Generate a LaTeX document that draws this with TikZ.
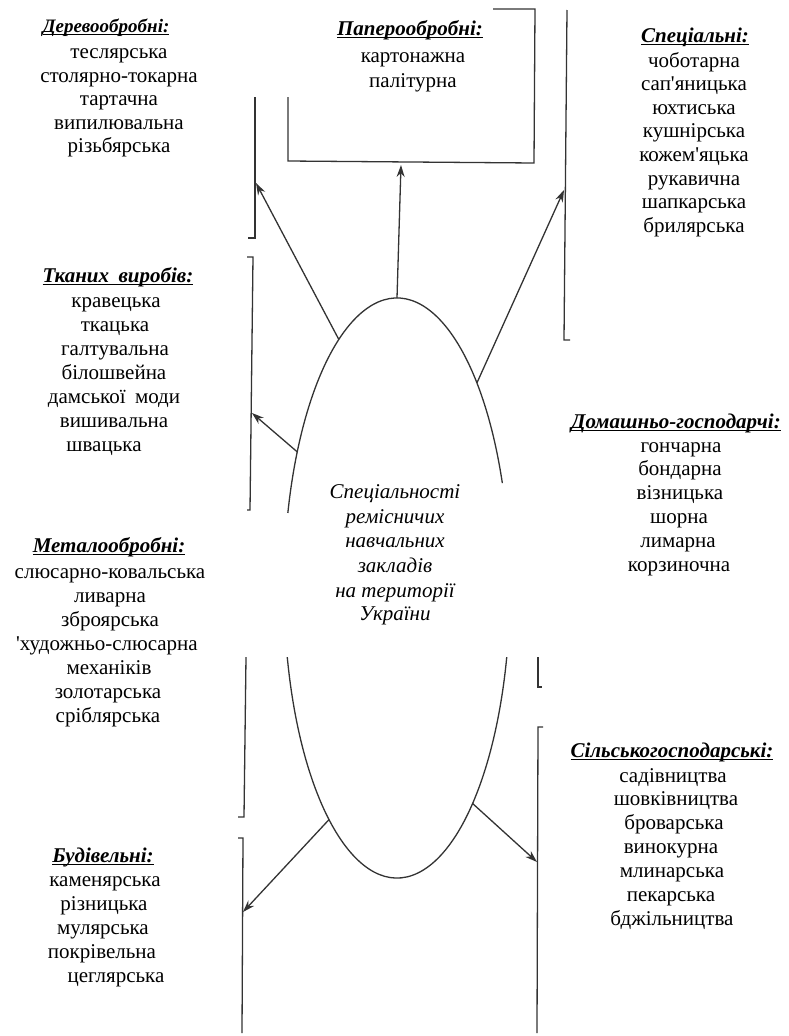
\documentclass[tikz,border=0pt]{standalone}
\usepackage{fontspec}
\setmainfont{Liberation Serif}[Ligatures=TeXOff]
\usetikzlibrary{arrows.meta}
\newcommand{\ulx}[1]{\setbox0\hbox{#1}\rlap{\rule[-3pt]{\wd0}{1.1pt}}\box0}
\begin{document}
\begin{tikzpicture}[x=1pt,y=-1pt,
  item/.style={inner sep=0pt, anchor=base, font=\fontsize{21}{23.5}\selectfont},
  head/.style={inner sep=0pt, anchor=base, font=\fontsize{21}{23.5}\selectfont\bfseries\itshape},
  ctext/.style={inner sep=0pt, anchor=base, font=\fontsize{21}{24}\selectfont\itshape},
  ln/.style={line width=1.3pt, draw=black!80},
  arr/.style={ln, -{Stealth[length=12pt,width=8pt]}}]
\useasboundingbox (0,0) rectangle (788,1036);

% ---------- headers and item lists ----------
\node[head, font=\fontsize{19}{22}\selectfont\bfseries\itshape] (hD) at (106,32) {\ulx{Деревообробні:}};
\foreach \t/\y [count=\i] in {теслярська/58, столярно-токарна/82, тартачна/105, випилювальна/129, різьбярська/152}
  \node[item] (d\i) at (119,\y) {\t};

\node[head] (hT) at (118,282) {\ulx{Тканих\hspace{0.45em}виробів:}};
\foreach \t/\x/\y [count=\i] in {кравецька/116/307, ткацька/115/331, галтувальна/115/355, білошвейна/114/379, {дамської\hspace{0.45em}моди}/114/403, вишивальна/114/427, швацька/104/451}
  \node[item] (t\i) at (\x,\y) {\t};

\node[head] (hM) at (109,552) {\ulx{Металообробні:}};
\foreach \t/\x/\y [count=\i] in {слюсарно-ковальська/110/578, ливарна/110/602, зброярська/110/626, 'художньо-слюсарна/107/650, механіків/109/674, золотарська/108/698, сріблярська/108/722}
  \node[item] (m\i) at (\x,\y) {\t};

\node[head] (hB) at (103,862) {\ulx{Будівельні:}};
\foreach \t/\x/\y [count=\i] in {каменярська/105/886, різницька/104/910, мулярська/103/934, покрівельна/102/958, цеглярська/116/982}
  \node[item] (b\i) at (\x,\y) {\t};

\node[head] (hP) at (410,35) {\ulx{Паперообробні:}};
\foreach \t/\y [count=\i] in {картонажна/62, палітурна/87}
  \node[item] (p\i) at (413,\y) {\t};

\node[head] (hS) at (695,42) {\ulx{Спеціальні:}};
\foreach \t/\y [count=\i] in {чоботарна/67, сап'яницька/90, юхтиська/114, кушнірська/137, кожем'яцька/161, рукавична/185, шапкарська/208, брилярська/232}
  \node[item] (s\i) at (694,\y) {\t};

\node[head] (hH) at (676,428) {\ulx{Домашньо-господарчі:}};
\foreach \t/\x/\y [count=\i] in {гончарна/681/452, бондарна/680/475, візницька/680/499, шорна/679/523, лимарна/678/547, корзиночна/679/571}
  \node[item] (g\i) at (\x,\y) {\t};

\node[head] (hA) at (672,757) {\ulx{Сільськогосподарські:}};
\foreach \t/\x/\y [count=\i] in {садівництва/673/782, шовківництва/676/805, броварська/674/829, винокурна/671/853, млинарська/672/877, пекарська/671/901, бджільництва/672/925}
  \node[item] (a\i) at (\x,\y) {\t};

% ---------- central text ----------
\foreach \t/\y [count=\i] in {Спеціальності/498, ремісничих/523, навчальних/547, закладів/572, на території/597, України/620}
  \node[ctext] (c\i) at (395,\y) {\t};

% ---------- central oval (broken round the text) ----------
\coordinate (E) at (397,588);
\draw[ln] ([shift={(21.2:113pt and 290pt)}]E) arc[start angle=21.2, end angle=165, x radius=113pt, y radius=290pt];
\draw[ln] ([shift={(193.8:113pt and 290pt)}]E) arc[start angle=193.8, end angle=346.2, x radius=113pt, y radius=290pt];

% ---------- brackets ----------
\draw[ln] (255,97) -- (255,238) -- (248,238);
\draw[ln] (247,257) -- (253,257) -- (250,510) -- (247,510);
\draw[ln] (246,657) -- (244,817) -- (238,817);
\draw[ln] (238,838) -- (243,838) -- (242,1033);
\draw[ln] (288,97) -- (288,161) -- (534,163) -- (535,9) -- (493,9);
\draw[ln] (567,10) -- (564,340) -- (570,340);
\draw[ln] (538,657) -- (538,687) -- (542,687);
\draw[ln] (543,727) -- (538,727) -- (537,1033);

% ---------- arrows ----------
\coordinate (eP) at ([shift={(90:113pt and 290pt)}]E);
\coordinate (eD) at ([shift={(121:113pt and 290pt)}]E);
\coordinate (eS) at ([shift={(45:113pt and 290pt)}]E);
\coordinate (eT) at ([shift={(152:113pt and 290pt)}]E);
\coordinate (eB) at ([shift={(233:113pt and 290pt)}]E);
\coordinate (eA) at ([shift={(312:113pt and 290pt)}]E);
\coordinate (tP) at (401,165);
\coordinate (tD) at (256,183);
\coordinate (tS) at (564,190);
\coordinate (tT) at (252,413);
\coordinate (tB) at (243,912);
\coordinate (tA) at (537,862);
\draw[arr] (eP) -- (tP);
\draw[arr] (eD) -- (tD);
\draw[arr] (eS) -- (tS);
\draw[arr] (eT) -- (tT);
\draw[arr] (eB) -- (tB);
\draw[arr] (eA) -- (tA);
\end{tikzpicture}
\end{document}
